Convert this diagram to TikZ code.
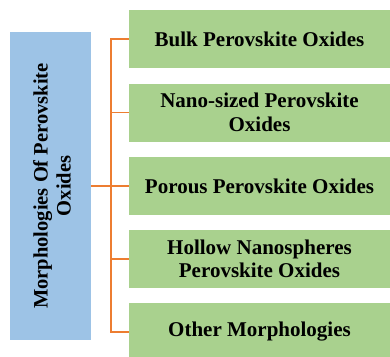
\documentclass[tikz,border=0pt]{standalone}
\usepackage{fontspec}
\setmainfont{Liberation Serif}
\definecolor{bluebox}{HTML}{9DC3E6}
\definecolor{greenbox}{HTML}{A9D18E}
\definecolor{linkorange}{HTML}{ED7D31}
\begin{document}
\begin{tikzpicture}[x=1pt,y=-1pt,
  catbox/.style={fill=greenbox, draw=none, minimum width=261pt, minimum height=58pt,
    align=center, font=\fontsize{21}{23.5}\selectfont\bfseries, inner sep=0pt},
  rootbox/.style={fill=bluebox, draw=none, minimum width=81pt, minimum height=308pt, inner sep=0pt},
  link/.style={draw=linkorange, line width=1.4pt}]
\useasboundingbox (0,0) rectangle (390,356);
\clip (0,0) rectangle (390,356);
\node[rootbox] (root) at (50.5,186) {};
\node[rotate=90, align=center, font=\fontsize{20.5}{23}\selectfont\bfseries] (roottext) at (52,186) {Morphologies Of Perovskite\\Oxides};
\node[catbox] (b1) at (259.5,39) {Bulk Perovskite Oxides};
\node[catbox] (b2) at (259.5,112.5) {Nano-sized Perovskite\\Oxides};
\node[catbox] (b3) at (259.5,186) {Porous Perovskite Oxides};
\node[catbox] (b4) at (259.5,259) {Hollow Nanospheres\\Perovskite Oxides};
\node[catbox] (b5) at (259.5,332) {Other Morphologies};
\coordinate (t) at (111,186);
\draw[link] (root.east) -- (t);
\draw[link] (t) |- (b1.west);
\draw[link] (t) |- (b2.west);
\draw[link] (t) -- (b3.west);
\draw[link] (t) |- (b4.west);
\draw[link] (t) |- (b5.west);
\end{tikzpicture}
\end{document}
